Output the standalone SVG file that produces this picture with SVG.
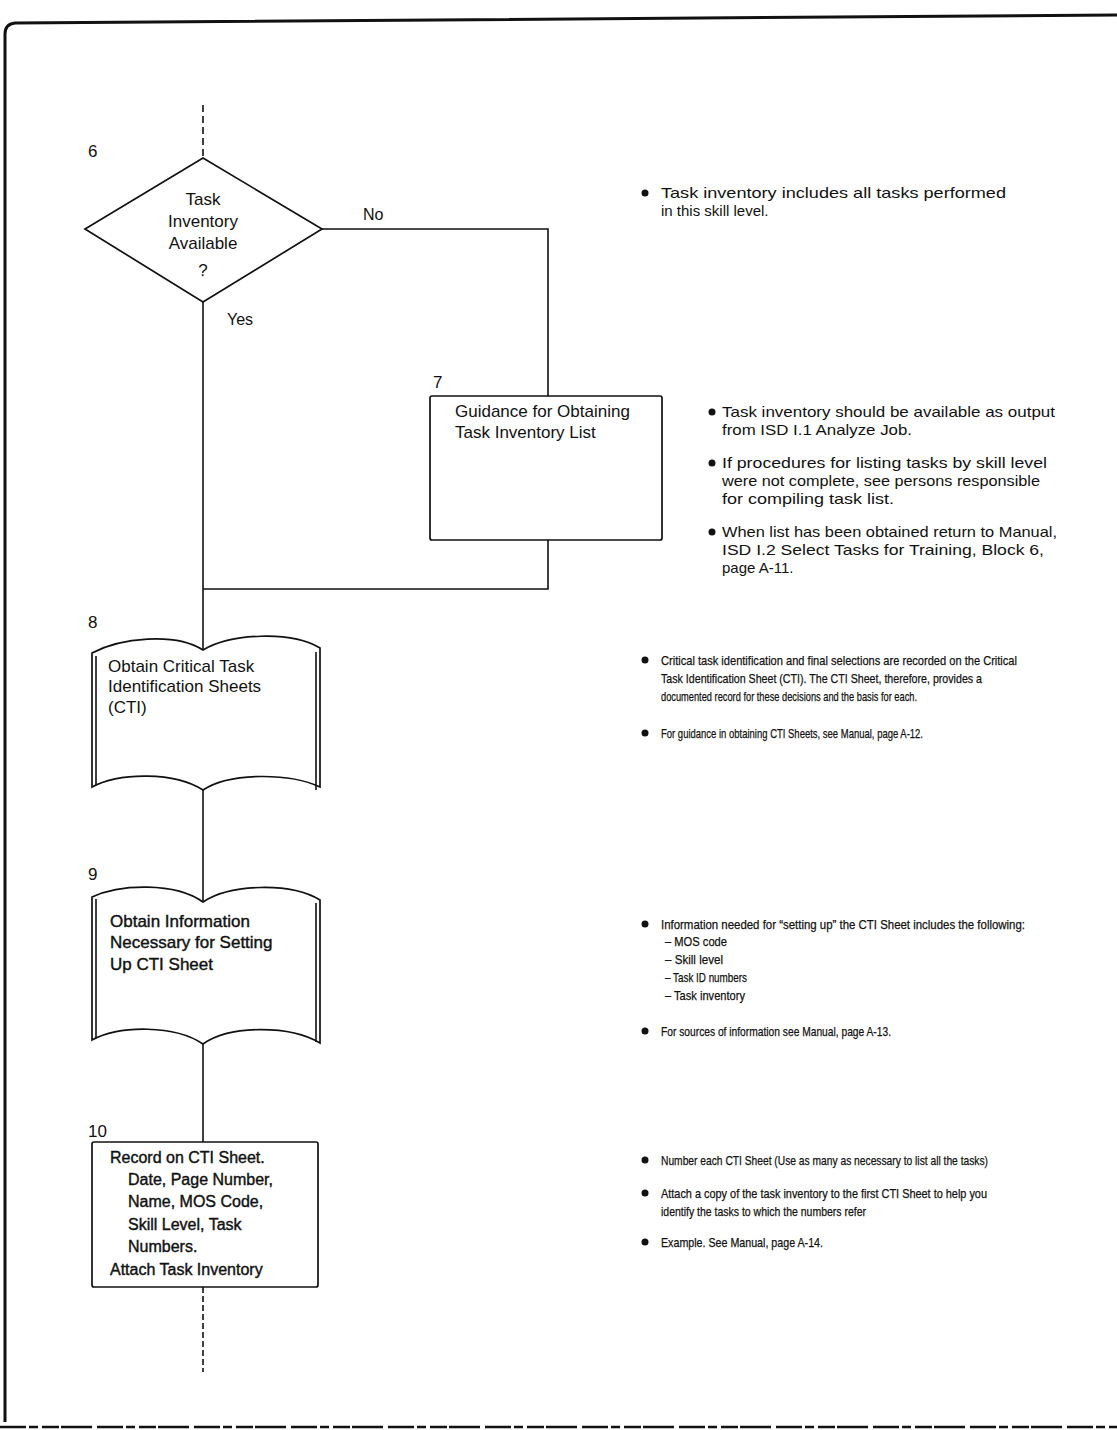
<svg xmlns="http://www.w3.org/2000/svg" width="1117" height="1430" viewBox="0 0 1117 1430">
<style>
.ln{stroke:#111;stroke-width:1.6;fill:none}
.bd{stroke:#111;stroke-width:3;fill:none}
.nd{stroke:#111;stroke-width:1.7;fill:#fff}
.t{font-family:"Liberation Sans",Arial,sans-serif;fill:#111}
.n{font-size:17px}
.s{font-size:15px}
.m{font-size:13.5px;stroke:#111;stroke-width:0.25}
.lb{font-size:16px}
.hv{stroke:#111;stroke-width:0.4}
.dot{fill:#111}
</style>
<rect x="0" y="0" width="1117" height="1430" fill="#fff"/>
<g id="border">
<path class="bd" d="M1117 15 L15 23 Q5 24 5 34 L5 1422"/>
<path d="M0 1427 H1117" stroke="#111" stroke-width="2.5" stroke-dasharray="26 3 9 4 17 2 31 5"/>
</g>
<g id="connectors">
<path class="ln" d="M203 105 V158" stroke-dasharray="7 4"/>
<path class="ln" d="M203 302 V650"/>
<path class="ln" d="M322 229 H548 V396"/>
<path class="ln" d="M548 540 V589 H203"/>
<path class="ln" d="M203 790 V902"/>
<path class="ln" d="M203 1044 V1142"/>
<path class="ln" d="M203 1287 V1372" stroke-dasharray="6 3"/>
<text class="t lb" x="363" y="220">No</text>
<text class="t lb" x="227" y="325">Yes</text>
</g>
<g id="node6">
<polygon class="nd" points="203,158 322,229 203,302 85,229"/>
<text class="t n" x="88" y="157">6</text>
<text class="t n" x="203" y="205" text-anchor="middle">Task</text>
<text class="t n" x="203" y="227" text-anchor="middle">Inventory</text>
<text class="t n" x="203" y="249" text-anchor="middle">Available</text>
<text class="t n" x="203" y="276" text-anchor="middle">?</text>
</g>
<g id="node7">
<rect class="nd" x="430" y="396" width="232" height="144" rx="2"/>
<text class="t n" x="433" y="388">7</text>
<text class="t n" x="455" y="417">Guidance for Obtaining</text>
<text class="t n" x="455" y="438">Task Inventory List</text>
</g>
<g id="node8">
<path class="nd" d="M92 653 C120 638 175 632 203 650 C230 634 290 630 320 648 L320 787 C290 773 230 772 203 790 C175 772 120 772 92 787 Z"/>
<path class="ln" d="M316 652 V790 M96 656 V785" stroke-width="1"/>
<text class="t n" x="88" y="628">8</text>
<text class="t n" x="108" y="672">Obtain Critical Task</text>
<text class="t n" x="108" y="692">Identification Sheets</text>
<text class="t n" x="108" y="713">(CTI)</text>
</g>
<g id="node9">
<path class="nd" d="M92 897 C120 884 175 882 203 902 C230 884 290 882 320 900 L320 1043 C290 1025 230 1025 203 1044 C175 1025 120 1025 92 1040 Z"/>
<path class="ln" d="M316 903 V1042 M96 899 V1038" stroke-width="1"/>
<text class="t n" x="88" y="880">9</text>
<text class="t n hv" x="110" y="927">Obtain Information</text>
<text class="t n hv" x="110" y="948">Necessary for Setting</text>
<text class="t n hv" x="110" y="970">Up CTI Sheet</text>
</g>
<g id="node10">
<rect class="nd" x="92" y="1142" width="226" height="145" rx="2"/>
<text class="t n" x="88" y="1137">10</text>
<text class="t lb hv" x="110" y="1163">Record on CTI Sheet.</text>
<text class="t lb hv" x="128" y="1185">Date, Page Number,</text>
<text class="t lb hv" x="128" y="1207">Name, MOS Code,</text>
<text class="t lb hv" x="128" y="1230">Skill Level, Task</text>
<text class="t lb hv" x="128" y="1252">Numbers.</text>
<text class="t lb hv" x="110" y="1275">Attach Task Inventory</text>
</g>
<g id="notes6">
<circle class="dot" cx="645" cy="193" r="3.5"/>
<text class="t s" x="661" y="198" textLength="345" lengthAdjust="spacingAndGlyphs">Task inventory includes all tasks performed</text>
<text class="t s" x="661" y="216">in this skill level.</text>
</g>
<g id="notes7">
<circle class="dot" cx="712" cy="412" r="3.5"/>
<text class="t s" x="722" y="417" textLength="333" lengthAdjust="spacingAndGlyphs">Task inventory should be available as output</text>
<text class="t s" x="722" y="435" textLength="190" lengthAdjust="spacingAndGlyphs">from ISD I.1 Analyze Job.</text>
<circle class="dot" cx="712" cy="463" r="3.5"/>
<text class="t s" x="722" y="468" textLength="325" lengthAdjust="spacingAndGlyphs">If procedures for listing tasks by skill level</text>
<text class="t s" x="722" y="486" textLength="318" lengthAdjust="spacingAndGlyphs">were not complete, see persons responsible</text>
<text class="t s" x="722" y="504" textLength="172" lengthAdjust="spacingAndGlyphs">for compiling task list.</text>
<circle class="dot" cx="712" cy="532" r="3.5"/>
<text class="t s" x="722" y="537" textLength="335" lengthAdjust="spacingAndGlyphs">When list has been obtained return to Manual,</text>
<text class="t s" x="722" y="555" textLength="322" lengthAdjust="spacingAndGlyphs">ISD I.2 Select Tasks for Training, Block 6,</text>
<text class="t s" x="722" y="573">page A-11.</text>
</g>
<g id="notes8">
<circle class="dot" cx="645" cy="660" r="3.5"/>
<text class="t m" x="661" y="665" textLength="356" lengthAdjust="spacingAndGlyphs">Critical task identification and final selections are recorded on the Critical</text>
<text class="t m" x="661" y="683" textLength="321" lengthAdjust="spacingAndGlyphs">Task Identification Sheet (CTI).  The CTI Sheet, therefore, provides a</text>
<text class="t m" x="661" y="701" textLength="256" lengthAdjust="spacingAndGlyphs">documented record for these decisions and the basis for each.</text>
<circle class="dot" cx="645" cy="733" r="3.5"/>
<text class="t m" x="661" y="738" textLength="262" lengthAdjust="spacingAndGlyphs">For guidance in obtaining CTI Sheets, see Manual, page A-12.</text>
</g>
<g id="notes9">
<circle class="dot" cx="645" cy="924" r="3.5"/>
<text class="t m" x="661" y="929" textLength="364" lengthAdjust="spacingAndGlyphs">Information needed for “setting up” the CTI Sheet includes the following:</text>
<text class="t m" x="665" y="946" textLength="62" lengthAdjust="spacingAndGlyphs">–  MOS code</text>
<text class="t m" x="665" y="964" textLength="58" lengthAdjust="spacingAndGlyphs">–  Skill level</text>
<text class="t m" x="665" y="982" textLength="82" lengthAdjust="spacingAndGlyphs">–  Task ID numbers</text>
<text class="t m" x="665" y="1000" textLength="80" lengthAdjust="spacingAndGlyphs">–  Task inventory</text>
<circle class="dot" cx="645" cy="1031" r="3.5"/>
<text class="t m" x="661" y="1036" textLength="230" lengthAdjust="spacingAndGlyphs">For sources of information see Manual, page A-13.</text>
</g>
<g id="notes10">
<circle class="dot" cx="645" cy="1160" r="3.5"/>
<text class="t m" x="661" y="1165" textLength="327" lengthAdjust="spacingAndGlyphs">Number each CTI Sheet (Use as many as necessary to list all the tasks)</text>
<circle class="dot" cx="645" cy="1193" r="3.5"/>
<text class="t m" x="661" y="1198" textLength="326" lengthAdjust="spacingAndGlyphs">Attach a copy of the task inventory to the first CTI Sheet to help you</text>
<text class="t m" x="661" y="1216" textLength="205" lengthAdjust="spacingAndGlyphs">identify the tasks to which the numbers refer</text>
<circle class="dot" cx="645" cy="1242" r="3.5"/>
<text class="t m" x="661" y="1247" textLength="162" lengthAdjust="spacingAndGlyphs">Example.  See Manual, page A-14.</text>
</g>
</svg>
